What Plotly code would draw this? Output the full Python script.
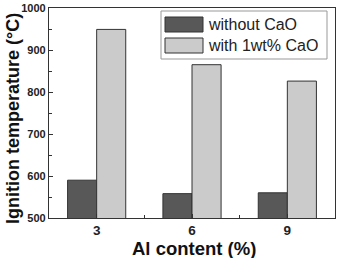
import plotly.graph_objects as go

al_content = [3, 6, 9]
without_cao = [590, 558, 560]
with_cao = [949, 865, 826]
series_names = ["without CaO", "with 1wt% CaO"]
y_ticks = [500, 600, 700, 800, 900, 1000]

dark = "#585858"
light = "#cbcbcb"
edge = "#333333"

fig = go.Figure()
fig.add_trace(go.Bar(x=al_content, y=without_cao, name=series_names[0],
                     marker=dict(color=dark, line=dict(color=edge, width=1))))
fig.add_trace(go.Bar(x=al_content, y=with_cao, name=series_names[1],
                     marker=dict(color=light, line=dict(color=edge, width=1))))

fig.update_layout(
    width=338, height=258,
    margin=dict(l=49, r=3, t=8, b=40),
    paper_bgcolor="white", plot_bgcolor="white",
    barmode="group", bargap=0.39, bargroupgap=0,
    showlegend=False,
    font=dict(family="Arial, Liberation Sans, sans-serif", color="#222"),
)
fig.update_xaxes(
    range=[1.5, 10.5], tickvals=al_content, ticktext=[str(v) for v in al_content],
    tickfont=dict(size=13.5, weight="bold"),
    showline=True, linecolor="#333", linewidth=1.2, mirror=True,
    ticks="inside", ticklen=4, tickcolor="#333", showgrid=False, zeroline=False,
    minor=dict(tickvals=[4.5, 7.5], ticks="inside", ticklen=3, tickcolor="#333"),
)
fig.update_yaxes(
    range=[500, 1000], tickvals=y_ticks,
    tickfont=dict(size=11, weight="bold"),
    showline=True, linecolor="#333", linewidth=1.2, mirror=True,
    ticks="inside", ticklen=4, tickcolor="#333", showgrid=False, zeroline=False,
    minor=dict(dtick=50, ticks="inside", ticklen=2.5, tickcolor="#333"),
)

# axis titles
fig.add_annotation(text="Ignition temperature (°C)", xref="paper", yref="paper",
                   x=0, y=(218 - 119) / 210, xshift=-36, textangle=-90, showarrow=False,
                   xanchor="center", yanchor="middle",
                   font=dict(size=18, weight="bold", color="#111"))
fig.add_annotation(text="Al content (%)", xref="paper", yref="paper",
                   x=(193.5 - 49) / 286, y=0, yshift=-30, showarrow=False,
                   xanchor="center", yanchor="middle",
                   font=dict(size=18.5, weight="bold", color="#111"))

# legend box (paper coordinates)
W, H = 286.0, 210.0
def px(xp): return (xp - 49) / W
def py(yp): return (218 - yp) / H
fig.add_shape(type="rect", xref="paper", yref="paper",
              x0=px(161), x1=px(327), y0=py(59), y1=py(11),
              line=dict(color="#999", width=1), fillcolor="white")
for i, (name, col) in enumerate(zip(series_names, [dark, light])):
    top = 17 + i * 21
    fig.add_shape(type="rect", xref="paper", yref="paper",
                  x0=px(165), x1=px(203), y0=py(top + 15), y1=py(top),
                  line=dict(color=edge, width=1), fillcolor=col)
    fig.add_annotation(text=name, xref="paper", yref="paper",
                       x=px(206), y=py(top + 7.5), xanchor="left", yanchor="middle",
                       showarrow=False, font=dict(size=16, color="#222"))

fig.write_html("out.html")
